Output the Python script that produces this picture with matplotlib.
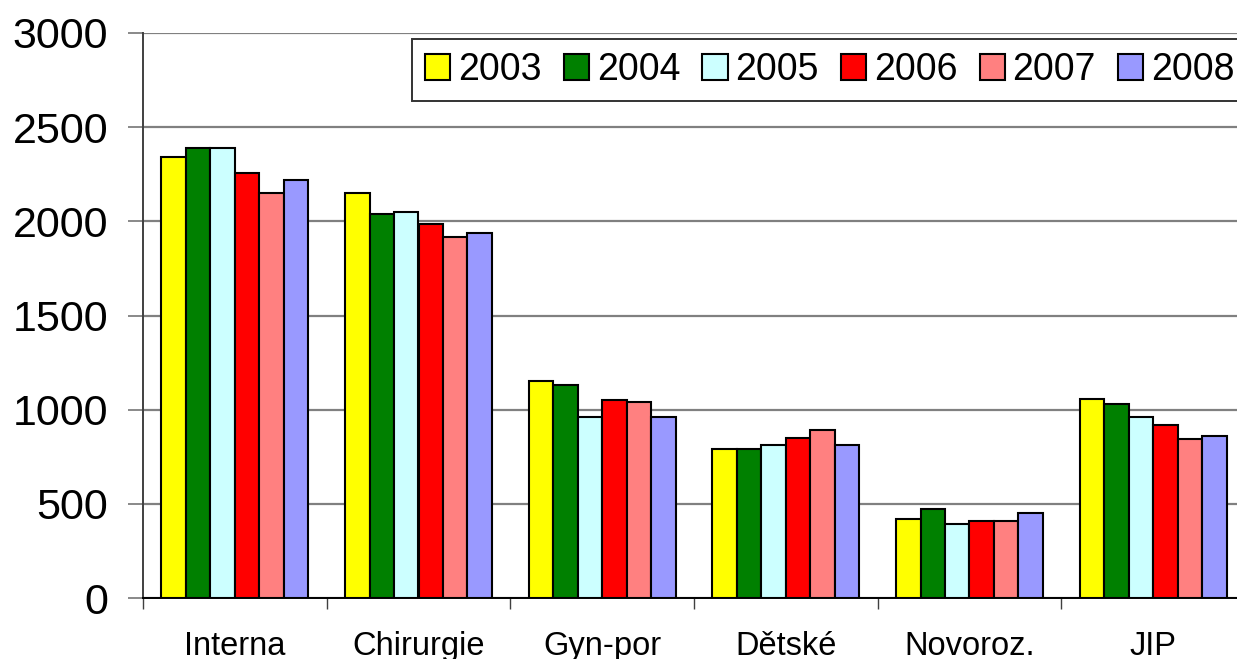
import numpy as np
import matplotlib
matplotlib.use("Agg")
import matplotlib.pyplot as plt

plt.rcParams['font.family'] = ['Liberation Sans', 'DejaVu Sans']

categories = ['Interna', 'Chirurgie', 'Gyn-por', 'Dětské', 'Novoroz.', 'JIP']
years = ['2003', '2004', '2005', '2006', '2007', '2008']
colors = ['#FFFF00', '#008000', '#CCFFFF', '#FF0000', '#FF8080', '#9999FF']

v2003 = [2342, 2150, 1150, 791, 421, 1058]
v2004 = [2391, 2039, 1133, 791, 470, 1032]
v2005 = [2391, 2051, 959, 810, 391, 959]
v2006 = [2258, 1988, 1049, 849, 410, 921]
v2007 = [2150, 1919, 1040, 891, 410, 842]
v2008 = [2219, 1938, 961, 810, 451, 859]
series = [v2003, v2004, v2005, v2006, v2007, v2008]

fig = plt.figure(figsize=(12.37, 6.59), dpi=100)
ax = fig.add_axes([143 / 1237, 61 / 659, 1102 / 1237, 565 / 659])

x = np.arange(len(categories))
n = len(series)
w = 0.8 / n
for i, (vals, col, yr) in enumerate(zip(series, colors, years)):
    ax.bar(x - 0.4 + w * (i + 0.5), vals, width=w, color=col,
           edgecolor='black', linewidth=1.5, label=yr, zorder=3)

ax.set_xlim(-0.5, len(categories) - 0.5)
ax.set_ylim(0, 3000)
ax.set_yticks(np.arange(0, 3001, 500))
ax.yaxis.grid(True, color='#808080', linewidth=1.6, zorder=0)
ax.tick_params(axis='y', labelsize=31, length=11, width=1.3,
               color='#808080', pad=14)

# category boundaries as major ticks, names on minor ticks
ax.set_xticks(np.arange(-0.5, len(categories), 1.0))
ax.set_xticklabels([])
ax.set_xticks(x, minor=True)
ax.set_xticklabels(categories, minor=True)
ax.tick_params(axis='x', which='major', length=8, width=1.0, color='#404040')
ax.tick_params(axis='x', which='minor', length=0, labelsize=23.5, pad=23.5)

for s in ['top', 'right']:
    ax.spines[s].set_visible(False)
ax.spines['left'].set_color('#404040')
ax.spines['left'].set_linewidth(1.4)
ax.spines['bottom'].set_color('black')
ax.spines['bottom'].set_linewidth(1.4)

leg = ax.legend(loc='upper left', bbox_to_anchor=(269 / 1102, 1 - 6 / 565),
                ncol=6, fontsize=27, frameon=True, fancybox=False,
                handlelength=0.67, handleheight=0.67, handletextpad=0.21,
                columnspacing=0.59, borderpad=0.35, borderaxespad=0)
leg.get_frame().set_edgecolor('black')
leg.get_frame().set_linewidth(1.4)
for h in leg.legend_handles:
    h.set_linewidth(1.5)

fig.savefig('out.png', dpi=100)
